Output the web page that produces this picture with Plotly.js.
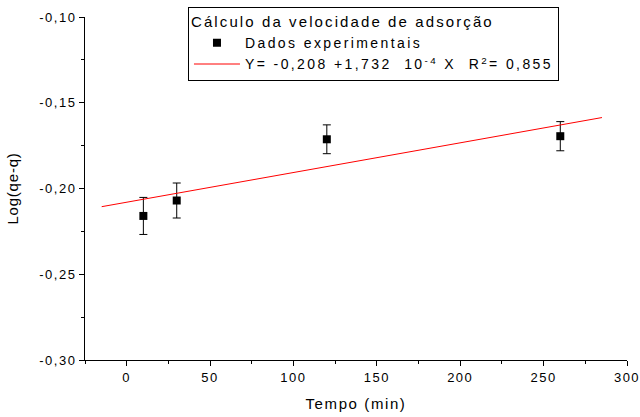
<!DOCTYPE html>
<html><head><meta charset="utf-8">
<script src="https://cdn.plot.ly/plotly-3.0.1.min.js"></script>
<style>
body{margin:0;background:#fff}#c{width:640px;height:417px}
.xtick text, .ytick text{letter-spacing:1.5px}
.legendtext{letter-spacing:2.4px}
.legendtitletext{letter-spacing:2.1px}
.xtitle{letter-spacing:1.6px}
.ytitle{letter-spacing:0.8px}
</style>
</head><body><div id="c"></div>
<script>
const tempo = [10, 30, 120, 260];
const logq = [-0.216, -0.207, -0.1713, -0.1695];
const erro = [0.0108, 0.0102, 0.0084, 0.0085];
const fitX = [-15, 285];
const intercept = -0.208, slope = 1.732e-4;
const fitY = fitX.map(x => intercept + slope * x);
const yTickVals = [-0.30, -0.25, -0.20, -0.15, -0.10];
const yTickText = ['-0,30', '-0,25', '-0,20', '-0,15', '-0,10'];
const xTickVals = [0, 50, 100, 150, 200, 250, 300];

const font = 'Arial, "Liberation Sans", sans-serif';
const traces = [
  {x: tempo, y: logq, type: 'scatter', mode: 'markers', name: 'Dados experimentais',
   marker: {symbol: 'square', size: 8, color: '#000'},
   error_y: {type: 'data', array: erro, visible: true, color: '#000', thickness: 1, width: 4}},
  {x: fitX, y: fitY, type: 'scatter', mode: 'lines',
   name: 'Y= -0,208 +1,732  10<sup>-4</sup> X  R<sup>2</sup>= 0,855',
   line: {color: '#ff0000', width: 1}}
];
const layout = {
  width: 640, height: 417,
  margin: {l: 85, r: 13, t: 17, b: 57, autoexpand: false},
  paper_bgcolor: '#fff', plot_bgcolor: '#fff',
  font: {family: font, size: 13, color: '#000'},
  showlegend: true,
  legend: {x: 0.19, y: 1.03, xanchor: 'left', yanchor: 'top',
    bordercolor: '#000', borderwidth: 1, bgcolor: '#fff',
    font: {family: font, size: 14, color: '#000'},
    title: {text: 'Cálculo da velocidade de adsorção', side: 'top', font: {family: font, size: 15}},
    tracegroupgap: 0, itemwidth: 46},
  xaxis: {range: [-25, 300], showgrid: false, zeroline: false,
    showline: true, linecolor: '#000', linewidth: 1,
    ticks: 'outside', ticklen: 5, tickcolor: '#000', tickwidth: 1,
    tickvals: xTickVals, ticktext: xTickVals.map(String), ticklabeloverflow: 'allow',
    tickfont: {family: font, size: 13},
    minor: {dtick: 25, ticks: 'outside', ticklen: 3, tickcolor: '#000', showgrid: false},
    title: {text: 'Tempo (min)', font: {family: font, size: 15}, standoff: 14}},
  yaxis: {range: [-0.30, -0.10], showgrid: false, zeroline: false,
    showline: true, linecolor: '#000', linewidth: 1,
    ticks: 'outside', ticklen: 5, tickcolor: '#000', tickwidth: 1,
    tickvals: yTickVals, ticktext: yTickText, ticklabeloverflow: 'allow',
    tickfont: {family: font, size: 13},
    minor: {dtick: 0.025, tick0: -0.30, ticks: 'outside', ticklen: 3, tickcolor: '#000', showgrid: false},
    title: {text: 'Log(qe-q)', font: {family: font, size: 15}, standoff: 17}}
};
Plotly.newPlot('c', traces, layout, {displayModeBar: false, staticPlot: true});
</script></body></html>
